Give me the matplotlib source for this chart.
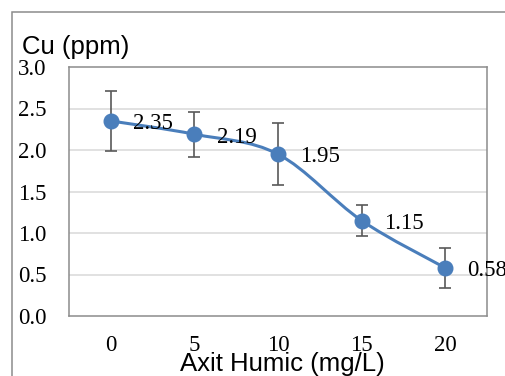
import matplotlib
matplotlib.use("Agg")
import matplotlib.pyplot as plt
from matplotlib.path import Path
from matplotlib.patches import PathPatch, Rectangle
import numpy as np

# Data
humic = [0, 5, 10, 15, 20]
cu = [2.35, 2.19, 1.95, 1.15, 0.58]
err = [0.36, 0.27, 0.37, 0.19, 0.24]
labels = ["2.35", "2.19", "1.95", "1.15", "0.58"]
yticks = [0.0, 0.5, 1.0, 1.5, 2.0, 2.5, 3.0]

W, H = 505, 376
fig = plt.figure(figsize=(W / 100, H / 100), dpi=100)

# outer chart frame
fig.patches.append(Rectangle((12 / W, -0.1), 1.2, 1.1 - 12 / H + 0.0,
                             transform=fig.transFigure, fill=False,
                             edgecolor="#8c8c8c", linewidth=1.1, zorder=0))

ax = fig.add_axes([69 / W, 1 - 316 / H, (487 - 69) / W, (316 - 67) / H])
ax.set_xlim(-2.5, 22.5)
ax.set_ylim(0, 3.0)

blue = "#4a7ebb"

# grid
for yv in yticks[1:-1]:
    ax.axhline(yv, color="#d9d9d9", linewidth=1.1, zorder=0)

for s in ax.spines.values():
    s.set_color("#8c8c8c")
    s.set_linewidth(1.1)

# smooth line (Catmull-Rom style bezier through data points)
pts = np.column_stack([humic, cu]).astype(float)
verts = [tuple(pts[0])]
codes = [Path.MOVETO]
n = len(pts)
for i in range(n - 1):
    p0 = pts[i - 1] if i > 0 else pts[i]
    p1 = pts[i]
    p2 = pts[i + 1]
    p3 = pts[i + 2] if i + 2 < n else pts[i + 1]
    c1 = p1 + (p2 - p0) / 6.0
    c2 = p2 - (p3 - p1) / 6.0
    verts += [tuple(c1), tuple(c2), tuple(p2)]
    codes += [Path.CURVE4] * 3
ax.add_patch(PathPatch(Path(verts, codes), facecolor="none",
                       edgecolor=blue, linewidth=2.2, zorder=3,
                       capstyle="round"))

ax.errorbar(humic, cu, yerr=err, fmt="none", ecolor="#595959",
            elinewidth=1.2, capsize=4.3, capthick=1.2, zorder=2)
ax.plot(humic, cu, linestyle="none", marker="o", markersize=10.5,
        color=blue, zorder=4)

for xv, yv, t in zip(humic, cu, labels):
    ax.annotate(t, (xv, yv), xytext=(16, -2), textcoords="offset points",
                ha="left", va="center", fontsize=16.5,
                family="Liberation Serif", color="black",
                annotation_clip=False, zorder=5)

ax.set_yticks(yticks)
ax.set_yticklabels([f"{v:.1f}" for v in yticks])
ax.set_xticks(humic)
ax.set_xticklabels([str(v) for v in humic])
ax.tick_params(axis="both", length=0, labelsize=16.5)
ax.tick_params(axis="y", pad=16)
ax.tick_params(axis="x", pad=14)
for lab in ax.get_xticklabels() + ax.get_yticklabels():
    lab.set_family("Liberation Serif")

fig.text(22 / W, 1 - 47 / H, "Cu (ppm)", ha="left", va="center",
         fontsize=18.5, family="Liberation Sans")
fig.text(282 / W, 1 - 364 / H, "Axit Humic (mg/L)", ha="center",
         va="center", fontsize=18.5, family="Liberation Sans")

fig.savefig("out.png", dpi=100)
